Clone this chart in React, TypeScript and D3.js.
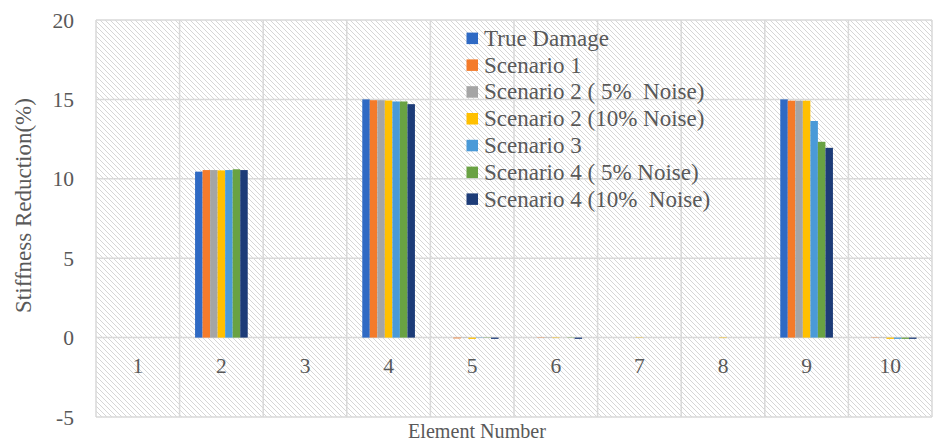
import React from "react";
import * as d3 from "d3";

const categories = ["1", "2", "3", "4", "5", "6", "7", "8", "9", "10"];
const seriesNames = [
  "True Damage",
  "Scenario 1",
  "Scenario 2 ( 5%  Noise)",
  "Scenario 2 (10% Noise)",
  "Scenario 3",
  "Scenario 4 ( 5% Noise)",
  "Scenario 4 (10%  Noise)",
];
const trueDamage = [0, 10.45, 0, 15.0, 0, 0, 0, 0, 15.0, 0];
const scenario1 = [0, 10.55, 0, 14.95, -0.05, -0.02, 0, 0, 14.92, -0.02];
const scenario2n5 = [0, 10.55, 0, 14.95, -0.02, -0.02, 0, 0, 14.92, -0.02];
const scenario2n10 = [0, 10.53, 0, 14.93, -0.08, -0.03, -0.02, -0.03, 14.92, -0.08];
const scenario3 = [0, 10.55, 0, 14.87, -0.02, 0, 0, 0, 13.64, -0.08];
const scenario4n5 = [0, 10.6, 0, 14.87, -0.02, -0.02, 0, 0, 12.33, -0.08];
const scenario4n10 = [0, 10.55, 0, 14.7, -0.08, -0.08, 0, 0, 11.95, -0.08];
const seriesValues = [trueDamage, scenario1, scenario2n5, scenario2n10, scenario3, scenario4n5, scenario4n10];
const colors = ["#2F6AC4", "#F47B2A", "#A5A5A5", "#FFC000", "#4A9AD8", "#69A243", "#1D3C78"];
const yTicks = [-5, 0, 5, 10, 15, 20];

export default function App() {
  const W = 933, H = 443;
  const left = 96, right = 932, top = 20, bottom = 417;
  const x = d3.scaleBand<string>().domain(categories).range([left, right]).paddingInner(0).paddingOuter(0);
  const inner = d3.scaleBand<number>().domain(d3.range(seriesNames.length)).range([0, x.bandwidth() * 0.63]);
  const groupOffset = (x.bandwidth() - x.bandwidth() * 0.63) / 2;
  const y = d3.scaleLinear().domain([-5, 20]).range([bottom, top]);
  const font = "'Liberation Serif', 'Times New Roman', serif";
  const grid = "#D9D9D9";
  const txt = "#595959";

  return (
    <svg width={W} height={H} style={{ position: "absolute", left: 0, top: 0, background: "#fff" }}>
      <defs>
        <pattern id="hatch" width="5" height="5" patternUnits="userSpaceOnUse">
          <rect width="5" height="5" fill="#fff" />
          <path d="M-1,-1 L6,6 M-1,4 L1,6 M4,-1 L6,1" stroke="#D6D6D6" strokeWidth="1" />
        </pattern>
      </defs>
      <rect x={left} y={top} width={right - left} height={bottom - top} fill="url(#hatch)" />
      {yTicks.map((t) => (
        <line key={"gy" + t} x1={left} x2={right} y1={y(t)} y2={y(t)} stroke={grid} strokeWidth={1.5} />
      ))}
      {categories.map((c) => (
        <line key={"gx" + c} x1={x(c)!} x2={x(c)!} y1={top} y2={bottom} stroke={grid} strokeWidth={1.5} />
      ))}
      <line x1={right} x2={right} y1={top} y2={bottom} stroke={grid} strokeWidth={1.5} />
      {seriesValues.map((vals, si) =>
        vals.map((v, ci) => {
          const bx = x(categories[ci])! + groupOffset + inner(si)!;
          const y0 = y(0), y1 = y(v);
          return (
            <rect key={si + "-" + ci} x={bx} y={Math.min(y0, y1)} width={inner.bandwidth()} height={Math.abs(y1 - y0)} fill={colors[si]} />
          );
        })
      )}
      {yTicks.map((t) => (
        <text key={"ty" + t} x={74} y={y(t) + 7.5} textAnchor="end" fontFamily={font} fontSize={21.5} fill={txt}>
          {t}
        </text>
      ))}
      {categories.map((c) => (
        <text key={"tx" + c} x={x(c)! + x.bandwidth() / 2} y={373} textAnchor="middle" fontFamily={font} fontSize={21.5} fill={txt}>
          {c}
        </text>
      ))}
      <text x={408} y={438} fontFamily={font} fontSize={21} fill={txt} textLength={138} lengthAdjust="spacingAndGlyphs">
        Element Number
      </text>
      <text transform={`translate(31,205.5) rotate(-90)`} textAnchor="middle" fontFamily={font} fontSize={23} fill={txt}>
        Stiffness Reduction(%)
      </text>
      {seriesNames.map((n, i) => (
        <g key={"lg" + i} transform={`translate(466.5,${38.3 + i * 26.8})`}>
          <rect x={0} y={-5.7} width={11.5} height={11.5} fill={colors[i]} />
          <text x={17.5} y={7.5} fontFamily={font} fontSize={23} fill={txt} style={{ whiteSpace: "pre" }}>
            {n}
          </text>
        </g>
      ))}
    </svg>
  );
}
